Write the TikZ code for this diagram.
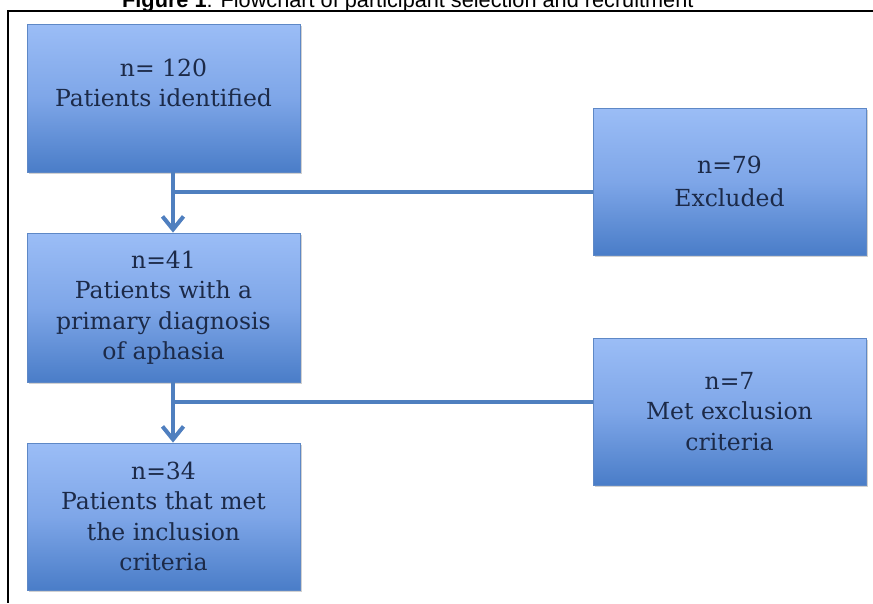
\documentclass[tikz,border=0pt]{standalone}
\usepackage{fontspec}
\setmainfont{DejaVu Serif}
\newfontfamily\titlefont{Liberation Sans}
\usetikzlibrary{arrows.meta,shadows}
\definecolor{boxtop}{HTML}{9BBDF6}
\definecolor{boxmid}{HTML}{7EA6E8}
\definecolor{boxbot}{HTML}{4A7DC8}
\definecolor{boxline}{HTML}{5E88C6}
\definecolor{linkcol}{HTML}{4F7FBF}
\definecolor{txtcol}{HTML}{1C2A48}
\tikzset{
  flowbox/.style={rectangle, draw=boxline, line width=0.8pt,
    top color=boxtop, bottom color=boxbot, middle color=boxmid,
    minimum width=273pt, minimum height=147pt, align=center,
    text=txtcol, font=\fontsize{23.5}{30.5}\selectfont, inner sep=0pt,
    drop shadow={shadow xshift=1.5pt, shadow yshift=-2pt, opacity=0.18, fill=black}},
  link/.style={draw=linkcol, line width=4pt},
  linkarrow/.style={link, -{Straight Barb[length=13pt,width=21pt]}},
  framebar/.style={draw=black, line width=2.6pt}
}
\begin{document}
\begin{tikzpicture}[x=1pt,y=-1pt]
\clip (0,0) rectangle (873,603);
\useasboundingbox (0,0) rectangle (873,603);
\fill[white] (0,0) rectangle (873,603);
% title (clipped at the top as in the reference)
\node[anchor=base west, inner sep=0pt, font=\titlefont\fontsize{21.7}{24}\selectfont] (title) at (122,7)
  {\textbf{Figure 1}: Flowchart of participant selection and recruitment};
% frame
\coordinate (frameTL) at (8,11);
\coordinate (frameTR) at (873,11);
\coordinate (frameBL) at (8,603);
\draw[framebar] (frameTR) -- (frameTL) -- (frameBL);
% boxes
\node[flowbox, minimum height=148pt] (b1) at (163.5,98) {n= 120\\Patients identified\\\mbox{}};
\node[flowbox] (ex1) at (729.5,181.5) {n=79\\[3pt]Excluded};
\node[flowbox, minimum height=149pt] (b2) at (163.5,307.5) {n=41\\Patients with a\\primary diagnosis\\of aphasia};
\node[flowbox] (ex2) at (729.5,411.5) {n=7\\Met exclusion\\criteria};
\node[flowbox] (b3) at (163.5,516.5) {n=34\\Patients that met\\the inclusion\\criteria};
% connectors
\coordinate (s1) at (173,172);
\coordinate (j1) at (173,192);
\coordinate (e1) at (173,232);
\coordinate (s2) at (173,382);
\coordinate (j2) at (173,402);
\coordinate (e2) at (173,442);
\draw[link] (j1) -- (ex1.west |- j1);
\draw[link] (j2) -- (ex2.west |- j2);
\draw[linkarrow] (b1.south -| s1) -- (b2.north -| e1);
\draw[linkarrow] (b2.south -| s2) -- (b3.north -| e2);
\end{tikzpicture}
\end{document}
